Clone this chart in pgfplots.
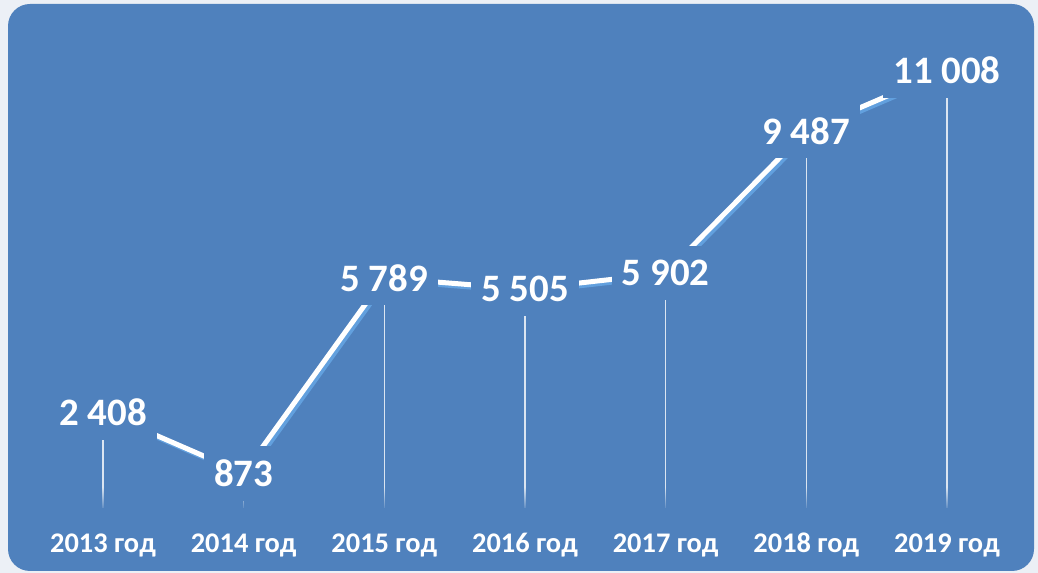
\documentclass[border=0pt]{standalone}
\usepackage{fontspec}
\setmainfont{Carlito}
\usepackage{pgfplots}
\pgfplotsset{compat=1.18}
\usetikzlibrary{fadings}
\definecolor{bg}{RGB}{79,129,189}
\definecolor{outer}{RGB}{236,240,246}
\definecolor{shadowblue}{RGB}{98,160,222}
\begin{document}
\begin{tikzpicture}
\useasboundingbox (0,0) rectangle (1038bp,573bp);
\fill[outer] (0,0) rectangle (1038bp,573bp);
\fill[bg, rounded corners=22bp] (8bp,2bp) rectangle (1034bp,569bp);
\begin{axis}[
  at={(0,0)}, anchor=south west,
  scale only axis, width=1038bp, height=573bp,
  xmin=2012.268, xmax=2019.647, ymin=-1635, ymax=12777,
  axis line style={draw=none}, major tick length=0pt,
  ytick=\empty,
  xtick={2013,2014,2015,2016,2017,2018,2019},
  xticklabels={2013 год,2014 год,2015 год,2016 год,2017 год,2018 год,2019 год},
  xticklabel style={font=\bfseries\fontsize{28.5}{28.5}\selectfont, text=white, anchor=base, yshift=21bp},
  clip=false,
]
\addplot[ycomb, white, opacity=0.8, line width=1.5bp, mark=none] coordinates {
(2013,2408) (2014,873) (2015,5789) (2016,5505) (2017,5902) (2018,9487) (2019,11008)};
\addplot[shadowblue, line width=5bp, mark=none, xshift=2.5bp, yshift=-2.5bp] coordinates {
(2013,2408) (2014,873) (2015,5789) (2016,5505) (2017,5902) (2018,9487) (2019,11008)};
\addplot[white, line width=5bp, mark=none, nodes near coords, point meta=explicit symbolic,
  every node near coord/.append style={anchor=center, fill=bg, text=white,
    font=\bfseries\fontsize{39}{39}\selectfont, inner xsep=10bp, inner ysep=14bp}]
coordinates {
(2013,2408) [{2 408}]
(2014,873) [{873}]
(2015,5789) [{5 789}]
(2016,5505) [{5 505}]
(2017,5902) [{5 902}]
(2018,9487) [{9 487}]
(2019,11008) [{11 008}]};
\end{axis}
\fill[bg, path fading=north] (40bp,62bp) rectangle (1000bp,86bp);
\end{tikzpicture}
\end{document}
